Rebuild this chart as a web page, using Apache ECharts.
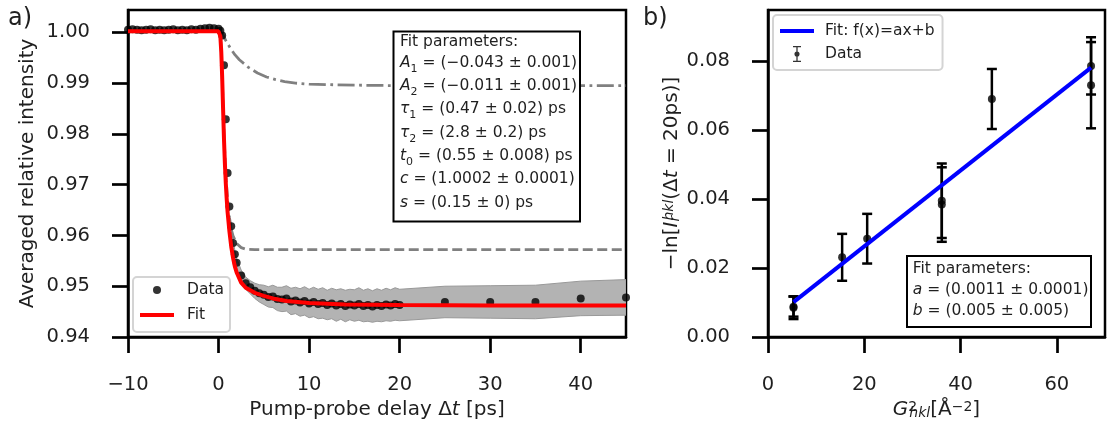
<!DOCTYPE html>
<html>
<head>
<meta charset="utf-8">
<script src="https://cdn.jsdelivr.net/npm/echarts@6.0.0/dist/echarts.min.js"></script>
<style>
html,body{margin:0;padding:0;background:#fff;}
#chart{width:1107px;height:426px;}
</style>
</head>
<body>
<div id="chart"></div>
<script>
// ---------- Panel a) data ----------
const dataT = [-10,-9.5,-9,-8.5,-8,-7.5,-7,-6.5,-6,-5.5,-5,-4.5,-4,-3.5,-3,-2.5,-2,-1.5,-1,-0.5,
  0,0.2,0.4,0.6,0.8,1.0,1.2,1.4,1.6,1.8,2.0,2.5,3,3.5,4,4.5,5,5.5,6,6.5,7,7.5,8,8.5,9,9.5,
  10,10.5,11,11.5,12,12.5,13,13.5,14,14.5,15,15.5,16,16.5,17,17.5,18,18.5,19,19.5,20,25,30,35,40,45];
const dataY = [1.0005,1.0006,1.0005,1.0004,1.0005,1.0006,1.0004,1.0005,1.0004,1.0005,1.0006,1.0004,1.0005,1.0004,1.0006,1.0005,1.0007,1.0008,1.0009,1.0008,
  1.0007,1.0003,0.9994,0.9935,0.9829,0.9723,0.9657,0.9618,0.9585,0.9563,0.9546,0.9521,0.9506,0.9498,0.9491,0.9486,0.9483,0.9479,0.9480,0.9475,0.9474,0.9476,0.9470,0.9472,0.9468,0.9471,
  0.9466,0.9469,0.9465,0.9467,0.9463,0.9466,0.9462,0.9465,0.9461,0.9464,0.9462,0.9465,0.9461,0.9463,0.9460,0.9463,0.9461,0.9464,0.9462,0.9465,0.9463,0.9469,0.9469,0.9469,0.9476,0.9478];
const dataErr = [0,0,0,0,0,0,0,0,0,0,0,0,0,0,0,0,0,0,0,0,
  0,0,0,0,0,0,0,0.0003,0.0006,0.0008,0.0009,0.0011,0.0012,0.0013,0.0015,0.0017,0.0019,0.0020,0.0022,0.0023,0.0024,0.0025,0.0026,0.0026,0.0027,0.0028,
  0.0028,0.0029,0.0029,0.0030,0.0029,0.0030,0.0031,0.0030,0.0031,0.0030,0.0031,0.0032,0.0031,0.0032,0.0031,0.0032,0.0031,0.0032,0.0031,0.0032,0.0031,0.0031,0.0032,0.0033,0.0034,0.0035];

const fitT = [-10,0,0.1,0.2,0.3,0.4,0.5,0.6,0.7,0.8,0.9,1.0,1.2,1.4,1.6,1.8,2.0,2.5,3.0,4.0,5.0,6.0,7.5,10,14,20,30,45];
const fitY = [1.0002,1.0002,1.0001,0.9992,0.9962,0.9912,0.9850,0.9790,0.9742,0.9703,0.9672,0.9646,0.9608,0.9578,0.9556,0.9539,0.9527,0.9507,0.9497,0.9487,0.9481,0.9476,0.9471,0.9467,0.9464,0.9463,0.9462,0.9462];

const fastT = [-10,0,0.1,0.2,0.3,0.4,0.5,0.6,0.7,0.8,1.0,1.2,1.4,1.6,2.0,2.5,3.0,4.0,45];
const fastY = [1.0002,1.0002,1.0001,0.9993,0.9965,0.9918,0.9856,0.9800,0.9758,0.9722,0.9669,0.9636,0.9613,0.9599,0.9584,0.9576,0.9573,0.9572,0.9572];

const slowT = [-10,0,0.2,0.3,0.5,0.8,1.3,1.8,2.3,3.3,4.3,5.3,6.3,7.3,8.5,10,12,15,20,45];
const slowY = [1.0002,1.0002,1.0001,0.9999,0.9994,0.9984,0.9969,0.9956,0.9946,0.9931,0.9920,0.9912,0.9907,0.9903,0.9900,0.9898,0.9897,0.9896,0.9895,0.9895];

const xTicksA = [-10,0,10,20,30,40];
const yTicksA = [0.94,0.95,0.96,0.97,0.98,0.99,1.00];

// ---------- Panel b) data ----------
const gX   = [5.3, 5.3, 15.4, 20.6, 36.1, 36.1, 46.5, 67.1, 67.1];
const gY   = [0.0085, 0.0088, 0.0231, 0.0285, 0.0395, 0.0384, 0.0690, 0.0786, 0.0730];
const gErr = [0.0033, 0.0029, 0.0068, 0.0072, 0.0108, 0.0108, 0.0087, 0.0083, 0.0125];
const lineX = [5.3, 67.1];
const lineY = [0.0101, 0.0781];
const xTicksB = [0,20,40,60];
const yTicksB = [0,0.02,0.04,0.06,0.08];

// ---------- styling ----------
const FONT = "'DejaVu Sans', sans-serif";
const TXT = '#1f1f1f';
const pairs = (xs, ys) => xs.map((x, i) => [x, ys[i]]);
const minus = s => String(s).replace('-', '\u2212');

function axisCommon(ticks, fmt) {
  return {
    axisLine: {show: true, onZero: false, lineStyle: {color: '#000', width: 2.5}},
    axisTick: {show: true, inside: false, length: 16, lineStyle: {color: '#000', width: 2.7}, customValues: ticks},
    axisLabel: {customValues: ticks, formatter: fmt, margin: 38, fontFamily: FONT, fontSize: 19.5, color: TXT},
    splitLine: {show: false}
  };
}
const nameStyle = {
  fontFamily: FONT, fontSize: 20, color: TXT,
  rich: {
    i: {fontFamily: FONT, fontSize: 20, fontStyle: 'italic', color: TXT, align: 'left'},
    n: {fontFamily: FONT, fontSize: 20, color: TXT, align: 'left'},
    sup: {fontFamily: FONT, fontSize: 14, color: TXT, verticalAlign: 'top', lineHeight: 14, align: 'left'},
    supw: {fontFamily: FONT, fontSize: 14, color: TXT, verticalAlign: 'top', lineHeight: 14, width: 1, align: 'left'},
    subi: {fontFamily: FONT, fontSize: 14, fontStyle: 'italic', color: TXT, verticalAlign: 'bottom', lineHeight: 14, align: 'left'},
    subw: {fontFamily: FONT, fontSize: 14, fontStyle: 'italic', color: TXT, verticalAlign: 'bottom', lineHeight: 14, width: 1, align: 'left'},
    supi: {fontFamily: FONT, fontSize: 14, fontStyle: 'italic', color: TXT, verticalAlign: 'top', lineHeight: 14, align: 'left'}
  }
};

const chart = echarts.init(document.getElementById('chart'), null, {renderer: 'canvas'});

const boxRich = {
  i: {fontFamily: FONT, fontSize: 15.5, fontStyle: 'italic', fill: TXT, lineHeight: 23.3},
  s: {fontFamily: FONT, fontSize: 11, fill: TXT, verticalAlign: 'bottom', lineHeight: 13}
};
const BAR = 'path://M0,0H34V4H0Z';

const option = {
  animation: false,
  backgroundColor: '#fff',
  grid: [
    {left: 128, top: 10, right: 481, bottom: 89, show: true, borderColor: '#000', borderWidth: 2.5, backgroundColor: 'transparent'},
    {left: 768, top: 10, right: 2, bottom: 89, show: true, borderColor: '#000', borderWidth: 2.5, backgroundColor: 'transparent'}
  ],
  xAxis: [
    Object.assign({gridIndex: 0, type: 'value', min: -10, max: 45,
      name: '{n|Pump-probe delay \u0394}{i|t}{n| [ps]}', nameLocation: 'middle', nameGap: 58, nameTextStyle: nameStyle},
      axisCommon(xTicksA, v => minus(v))),
    Object.assign({gridIndex: 1, type: 'value', min: 0, max: 70,
      name: '{i|G}{supw|2}{subi|hkl}{n|[\u00c5}{sup|\u22122}{n|]}', nameLocation: 'middle', nameGap: 56, nameTextStyle: nameStyle},
      axisCommon(xTicksB, v => minus(v)))
  ],
  yAxis: [
    Object.assign({gridIndex: 0, type: 'value', min: 0.94, max: 1.0044,
      name: 'Averaged relative intensity', nameLocation: 'middle', nameGap: 90, nameTextStyle: nameStyle},
      axisCommon(yTicksA, v => v.toFixed(2))),
    Object.assign({gridIndex: 1, type: 'value', min: 0, max: 0.0948,
      name: '{n|\u2212ln[}{i|I}{subw|r}{supi|hkl}{n|(\u0394}{i|t}{n| = 20ps)]}', nameLocation: 'middle', nameGap: 86, nameTextStyle: nameStyle},
      axisCommon(yTicksB, v => v.toFixed(2)))
  ],
  legend: [
    {left: 133, top: 277, orient: 'vertical', selectedMode: false,
      data: [{name: 'Data', icon: 'circle'}, {name: 'Fit', icon: BAR}],
      itemWidth: 34, itemHeight: 8, itemGap: 9, padding: [5, 6, 9, 7],
      backgroundColor: '#fff', borderColor: '#d4d4d4', borderWidth: 2, borderRadius: 4,
      textStyle: {fontFamily: FONT, fontSize: 15.5, color: TXT, padding: [0, 0, 0, 8]}},
    {left: 773, top: 15, orient: 'vertical', selectedMode: false,
      data: [{name: 'Fit: f(x)=ax+b', icon: BAR},
             {name: 'Data', icon: 'path://M0,0H10V1.6H0Z M4.2,0H5.8V20H4.2Z M0,18.4H10V20H0Z M1.8,10A3.2,3.2,0,1,1,8.2,10A3.2,3.2,0,1,1,1.8,10Z'}],
      itemWidth: 34, itemHeight: 16, itemGap: 7, padding: [8, 8, 8, 7],
      backgroundColor: '#fff', borderColor: '#d4d4d4', borderWidth: 2, borderRadius: 4,
      textStyle: {fontFamily: FONT, fontSize: 15.5, color: TXT, padding: [0, 0, 0, 6]}}
  ],
  series: [
    {type: 'custom', name: 'band', xAxisIndex: 0, yAxisIndex: 0, z: 1, clip: true,
      data: [[dataT[0], dataY[0]]], encode: {x: 0, y: 1},
      renderItem: function (params, api) {
        const up = [], lo = [];
        for (let k = 0; k < dataT.length; k++) {
          if (dataErr[k] > 0) {
            up.push(api.coord([dataT[k], dataY[k] + dataErr[k]]));
            lo.push(api.coord([dataT[k], dataY[k] - dataErr[k]]));
          }
        }
        return {type: 'polygon', shape: {points: up.concat(lo.reverse())},
          style: {fill: '#b3b3b3', stroke: '#999999', lineWidth: 1}};
      }},
    {type: 'line', name: 'fast', xAxisIndex: 0, yAxisIndex: 0, z: 2, symbol: 'none',
      data: pairs(fastT, fastY), lineStyle: {color: '#808080', width: 2.8, type: [10, 4.5]}},
    {type: 'line', name: 'slow', xAxisIndex: 0, yAxisIndex: 0, z: 2, symbol: 'none',
      data: pairs(slowT, slowY), lineStyle: {color: '#808080', width: 2.8, type: [17, 4.5, 2.8, 4.5]}},
    {type: 'scatter', name: 'Data', xAxisIndex: 0, yAxisIndex: 0, z: 3, symbol: 'circle', symbolSize: 8,
      itemStyle: {color: '#000'}, data: pairs(dataT, dataY)},
    {type: 'line', name: 'Fit', xAxisIndex: 0, yAxisIndex: 0, z: 4, symbol: 'none',
      data: pairs(fitT, fitY), itemStyle: {color: '#ff0000'}, lineStyle: {color: '#ff0000', width: 4}},
    // panel b
    {type: 'custom', name: 'errbars', xAxisIndex: 1, yAxisIndex: 1, z: 3,
      data: gX.map((x, k) => [x, gY[k], gErr[k]]), encode: {x: 0, y: 1},
      renderItem: function (params, api) {
        const x = api.value(0), y = api.value(1), e = api.value(2);
        const t = api.coord([x, y + e]), b = api.coord([x, y - e]);
        const cw = 5, st = {stroke: '#000', lineWidth: 2.5};
        return {type: 'group', children: [
          {type: 'line', shape: {x1: t[0], y1: t[1], x2: b[0], y2: b[1]}, style: st},
          {type: 'line', shape: {x1: t[0] - cw, y1: t[1], x2: t[0] + cw, y2: t[1]}, style: st},
          {type: 'line', shape: {x1: b[0] - cw, y1: b[1], x2: b[0] + cw, y2: b[1]}, style: st}
        ]};
      }},
    {type: 'scatter', name: 'Data', xAxisIndex: 1, yAxisIndex: 1, z: 4, symbol: 'circle', symbolSize: 8,
      itemStyle: {color: '#000'}, data: pairs(gX, gY)},
    {type: 'line', name: 'Fit: f(x)=ax+b', xAxisIndex: 1, yAxisIndex: 1, z: 5, symbol: 'none',
      data: pairs(lineX, lineY), itemStyle: {color: '#0000ff'}, lineStyle: {color: '#0000ff', width: 4}}
  ],
  graphic: [
    {type: 'text', left: 8, top: 7, style: {text: 'a)', font: "24px 'DejaVu Sans'", fill: TXT}},
    {type: 'text', left: 643, top: 7, style: {text: 'b)', font: "24px 'DejaVu Sans'", fill: TXT}},
    {type: 'rect', z: 50, shape: {x: 393.5, y: 31.5, width: 186.5, height: 190}, style: {fill: '#fff', stroke: '#000', lineWidth: 2}},
    {type: 'text', z: 51, x: 400, y: 41.7, style: {text: 'Fit parameters:', fontFamily: FONT, fontSize: 15.5, fill: TXT, verticalAlign: 'middle'}},
    {type: 'text', z: 51, x: 400, y: 51.05, style: {
      text: '{i|A}{s|1} = (\u22120.043 \u00b1 0.001)\n{i|A}{s|2} = (\u22120.011 \u00b1 0.001)\n{i|\u03c4}{s|1} = (0.47 \u00b1 0.02) ps\n{i|\u03c4}{s|2} = (2.8 \u00b1 0.2) ps\n{i|t}{s|0} = (0.55 \u00b1 0.008) ps\n{i|c} = (1.0002 \u00b1 0.0001)\n{i|s} = (0.15 \u00b1 0) ps',
      fontFamily: FONT, fontSize: 15.5, fill: TXT, lineHeight: 23.3, verticalAlign: 'top', rich: boxRich}},
    {type: 'rect', z: 50, shape: {x: 907, y: 256, width: 184, height: 71}, style: {fill: '#fff', stroke: '#000', lineWidth: 2}},
    {type: 'text', z: 51, x: 912.7, y: 258.8, style: {
      text: 'Fit parameters:\n{i|a} = (0.0011 \u00b1 0.0001)\n{i|b} = (0.005 \u00b1 0.005)',
      fontFamily: FONT, fontSize: 15.5, fill: TXT, lineHeight: 21, verticalAlign: 'top',
      rich: {i: {fontFamily: FONT, fontSize: 15.5, fontStyle: 'italic', fill: TXT, lineHeight: 21}}}}
  ]
};
chart.setOption(option);
</script>
</body>
</html>
